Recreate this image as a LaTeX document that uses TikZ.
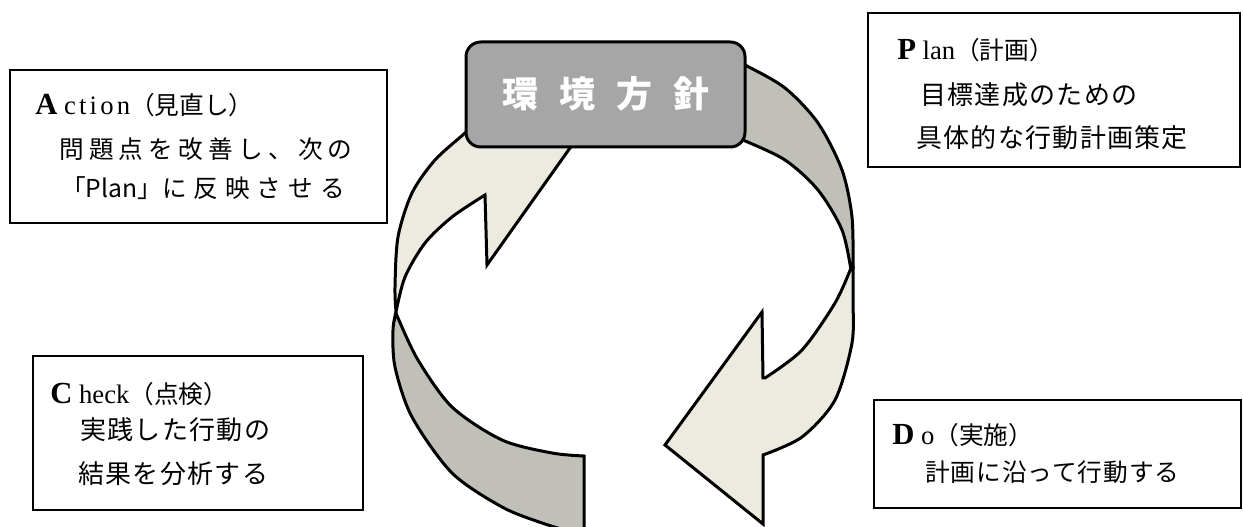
\documentclass[tikz,border=0pt]{standalone}
\usepackage{fontspec}
\usetikzlibrary{fit}
\newfontfamily\jpfont{Noto Sans CJK JP}
\newfontfamily\romfont{Liberation Serif}
\definecolor{darkband}{RGB}{192,192,184}
\definecolor{lightband}{RGB}{237,235,224}
\definecolor{boxgray}{RGB}{166,166,166}
\newcommand{\jpsz}{\jpfont\mdseries\fontsize{18.5}{22}\selectfont}
\newcommand{\jpbig}{\jpfont\mdseries\fontsize{19.5}{23}\selectfont\addfontfeature{LetterSpace=5}}
\newcommand{\inisz}{\romfont\bfseries\fontsize{23}{26}\selectfont}
\newcommand{\romsz}{\romfont\mdseries\fontsize{20}{23}\selectfont}
\tikzset{
  band/.style={draw=black, line width=2.25pt},
  tbox/.style={draw=black, line width=1.1pt, inner sep=0pt},
  jtext/.style={inner sep=0pt, anchor=west, font=\jpsz},
  headtext/.style={inner sep=0pt, anchor=base west},
  policybox/.style={draw=black, line width=2.25pt, fill=boxgray, rounded corners=11pt, inner sep=0pt},
  policytext/.style={inner sep=0pt, text=white, font=\jpfont\bfseries\fontsize{27}{31}\selectfont\addfontfeature{LetterSpace=58}}
}
\begin{document}
\begin{tikzpicture}[x=0.75pt,y=-0.75pt]
\useasboundingbox (0,0) rectangle (1243,527);
\begin{scope}
\clip (0,0) rectangle (1243,527);
% right arrow, back (dark) part
\draw[band, fill=darkband] plot[smooth] coordinates {(728,58) (745,65) (785,88) (818,123) (842,170) (852,217) (853,268)}
  -- plot[smooth] coordinates {(851,270) (842,230) (818,190) (785,160) (743,140) (728,134)} -- cycle;
% right arrow, front (light) part with head
\draw[band, fill=lightband] plot[smooth] coordinates {(853,268) (853,300) (852,343) (835,400) (802,437) (763,455)}
  -- (763,524) -- (665,445) -- (762,312) -- (763,378)
  -- plot[smooth] coordinates {(765,378) (802,350) (835,303) (851,268)} -- cycle;
% left arrow, back (dark) part
\draw[band, fill=darkband] plot[smooth] coordinates {(396,312) (393,330) (395,367) (412,417) (452,473) (502,507) (542,523) (575,533)}
  -- (584,540) -- (584,456)
  -- plot[smooth] coordinates {(584,456) (552,453) (502,440) (452,407) (418,360) (398,318) (396,312)} -- cycle;
% left arrow, front (light) part with head
\draw[band, fill=lightband] plot[smooth] coordinates {(396,312) (395,287) (398,237) (412,193) (435,160) (465,133) (478,120)}
  -- (604,100) -- (487,265) -- (485,195)
  -- plot[smooth] coordinates {(485,195) (452,217) (425,243) (405,277) (396,312)} -- cycle;
\end{scope}
% central box
\node[policybox, fit={(466,42) (745,147)}] (policy) {};
\node[policytext] (policylabel) at (606,94) {環境方針};
% Action box
\node[tbox, fit={(10,70) (387,223)}] (action) {};
\node[headtext] (actionhead) at (35,115) {\inisz A\romsz{} {\addfontfeature{LetterSpace=12}ction}\jpsz （見直し）};
\node[jtext, font=\jpsz\addfontfeature{LetterSpace=21}] (actionl2) at (59,149) {問題点を改善し、次の};
\node[jtext] (actionl3) at (61,188) {「Plan」{\addfontfeature{LetterSpace=28}に反映させる}};
% Plan box
\node[tbox, fit={(868,13) (1240,167)}] (plan) {};
\node[headtext] (planhead) at (897,60) {\inisz P\romsz{} lan\jpsz （計画）};
\node[jtext, font=\jpbig] (planl2) at (920,95) {目標達成のための};
\node[jtext, font=\jpbig] (planl3) at (916,138) {具体的な行動計画策定};
% Check box
\node[tbox, fit={(33,356) (363,510)}] (check) {};
\node[headtext] (checkhead) at (50,403) {\inisz C\romsz{} heck\jpsz （点検）};
\node[jtext, font=\jpbig] (checkl2) at (80,430) {実践した行動の};
\node[jtext, font=\jpbig] (checkl3) at (78,474) {結果を分析する};
% Do box
\node[tbox, fit={(874,400) (1241,508)}] (do) {};
\node[headtext] (dohead) at (892,444) {\inisz D\romsz{} o\jpsz （実施）};
\node[jtext, font=\jpsz\addfontfeature{LetterSpace=4}] (dol2) at (925,472) {計画に沿って行動する};
\end{tikzpicture}
\end{document}
